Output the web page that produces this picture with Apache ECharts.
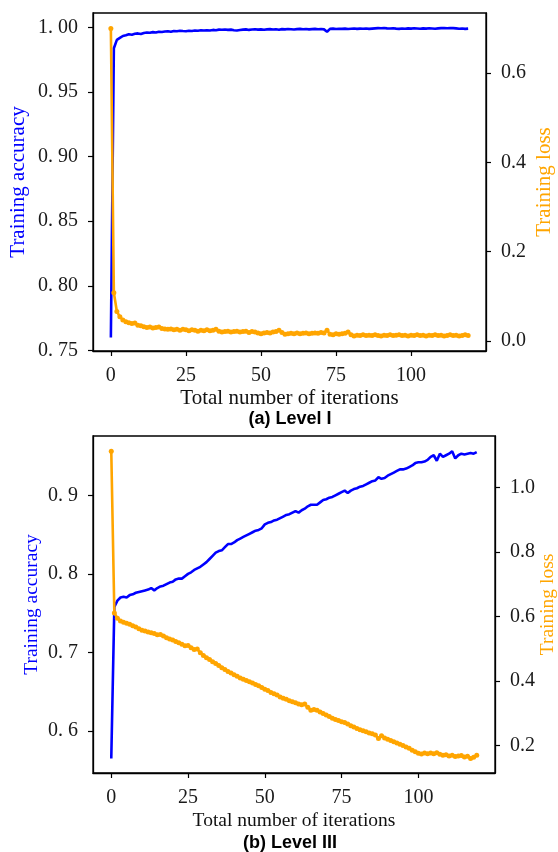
<!DOCTYPE html>
<html>
<head>
<meta charset="utf-8">
<script src="https://cdn.jsdelivr.net/npm/echarts@6/dist/echarts.min.js"></script>
<style>
  html, body { margin: 0; padding: 0; background: #fff; }
  #chart { width: 558px; height: 852px; }
</style>
</head>
<body>
<div id="chart"></div>
<script>
// Training curves for two difficulty levels: accuracy (left axis) and loss (right axis)

// (a) Level I
const accLevel1 = [
  0.760, 0.984, 0.9905, 0.992, 0.9935, 0.994, 0.9948, 0.9945, 0.9952, 0.9955,
  0.995, 0.9958, 0.9962, 0.996, 0.9965, 0.9962, 0.9968, 0.9966, 0.997, 0.9972,
  0.9968, 0.9974, 0.9972, 0.9975, 0.9973, 0.9972, 0.9976, 0.9974, 0.9978, 0.9976,
  0.9979, 0.9977, 0.998, 0.9978, 0.9982, 0.998, 0.9984, 0.9983, 0.9985, 0.9982,
  0.9984, 0.998, 0.9978, 0.9981, 0.9984, 0.9986, 0.9982, 0.9985, 0.9987, 0.9984,
  0.9986, 0.9983, 0.9986, 0.9988, 0.9985, 0.9987, 0.9983, 0.9988, 0.9986, 0.9989,
  0.9987, 0.9985, 0.9988, 0.999, 0.9987, 0.9989, 0.9986, 0.9988, 0.999, 0.9987,
  0.9989, 0.9986, 0.9968, 0.999, 0.9992, 0.9989, 0.9991, 0.999, 0.9992, 0.9989,
  0.9991, 0.9993, 0.999, 0.9992, 0.9991, 0.9993, 0.999, 0.9992, 0.9994, 0.9996,
  0.9995, 0.9997, 0.9994, 0.9993, 0.9995, 0.9992, 0.999, 0.9993, 0.9991, 0.9994,
  0.9992, 0.9995, 0.9993, 0.9991, 0.9994, 0.9992, 0.9995, 0.9993, 0.9991, 0.9994,
  0.9996, 0.9997, 0.9995, 0.9997, 0.9996, 0.9994, 0.9991, 0.9993, 0.999, 0.9992
];
const lossLevel1 = [
  0.700, 0.108, 0.066, 0.054, 0.047, 0.043, 0.041, 0.039, 0.040, 0.035,
  0.034, 0.032, 0.030, 0.031, 0.029, 0.030, 0.031, 0.028, 0.027, 0.026,
  0.027, 0.025, 0.026, 0.024, 0.026, 0.025, 0.023, 0.025, 0.024, 0.022,
  0.024, 0.023, 0.025, 0.023, 0.024, 0.026, 0.022, 0.020, 0.021, 0.022,
  0.020, 0.021, 0.022, 0.020, 0.021, 0.022, 0.019, 0.021, 0.020, 0.018,
  0.016, 0.018, 0.019, 0.018, 0.020, 0.021, 0.024, 0.019, 0.015, 0.016,
  0.017, 0.016, 0.018, 0.016, 0.017, 0.018, 0.016, 0.017, 0.018, 0.017,
  0.019, 0.018, 0.024, 0.015, 0.014, 0.016, 0.015, 0.016, 0.017, 0.020,
  0.014, 0.011, 0.013, 0.012, 0.014, 0.012, 0.013, 0.012, 0.014, 0.012,
  0.011, 0.013, 0.012, 0.014, 0.012, 0.013, 0.014, 0.012, 0.013, 0.011,
  0.013, 0.012, 0.014, 0.012, 0.013, 0.011, 0.013, 0.012, 0.014, 0.012,
  0.013, 0.011, 0.012, 0.014, 0.012, 0.013, 0.011, 0.012, 0.014, 0.012
];

// (b) Level III
const accLevel3 = [
  0.565, 0.758, 0.766, 0.770, 0.771, 0.770, 0.773, 0.774, 0.776, 0.777,
  0.778, 0.779, 0.780, 0.782, 0.779, 0.782, 0.784, 0.785, 0.787, 0.789,
  0.790, 0.793, 0.794, 0.794, 0.797, 0.800, 0.802, 0.805, 0.807, 0.809,
  0.812, 0.815, 0.819, 0.823, 0.827, 0.829, 0.830, 0.834, 0.838, 0.838,
  0.840, 0.843, 0.845, 0.847, 0.849, 0.851, 0.853, 0.855, 0.856, 0.858,
  0.863, 0.865, 0.866, 0.868, 0.869, 0.871, 0.873, 0.875, 0.876, 0.878,
  0.880, 0.878, 0.881, 0.883, 0.886, 0.888, 0.888, 0.888, 0.891, 0.894,
  0.895, 0.897, 0.898, 0.900, 0.902, 0.904, 0.906, 0.903, 0.906, 0.908,
  0.909, 0.911, 0.912, 0.914, 0.916, 0.918, 0.919, 0.923, 0.921, 0.922,
  0.925, 0.927, 0.929, 0.931, 0.933, 0.933, 0.934, 0.936, 0.938, 0.941,
  0.942, 0.942, 0.943, 0.945, 0.949, 0.951, 0.944, 0.953, 0.949, 0.951,
  0.953, 0.956, 0.947, 0.951, 0.953, 0.952, 0.953, 0.954, 0.953, 0.955
];
const lossLevel3 = [
  1.113, 0.611, 0.594, 0.586, 0.582, 0.579, 0.576, 0.571, 0.567, 0.562,
  0.557, 0.555, 0.552, 0.549, 0.547, 0.543, 0.544, 0.539, 0.534, 0.530,
  0.527, 0.522, 0.518, 0.514, 0.509, 0.510, 0.503, 0.497, 0.499, 0.487,
  0.479, 0.472, 0.466, 0.459, 0.454, 0.448, 0.441, 0.435, 0.429, 0.424,
  0.419, 0.414, 0.409, 0.405, 0.401, 0.397, 0.393, 0.389, 0.385, 0.379,
  0.374, 0.370, 0.364, 0.360, 0.356, 0.350, 0.346, 0.343, 0.338, 0.335,
  0.332, 0.328, 0.326, 0.328, 0.318, 0.309, 0.311, 0.309, 0.303, 0.299,
  0.294, 0.289, 0.284, 0.280, 0.277, 0.273, 0.271, 0.266, 0.261, 0.257,
  0.252, 0.248, 0.245, 0.242, 0.238, 0.236, 0.232, 0.221, 0.230, 0.223,
  0.219, 0.215, 0.211, 0.207, 0.203, 0.199, 0.195, 0.191, 0.185, 0.180,
  0.175, 0.173, 0.176, 0.174, 0.176, 0.174, 0.177, 0.172, 0.169, 0.171,
  0.167, 0.169, 0.165, 0.167, 0.168, 0.164, 0.166, 0.159, 0.163, 0.169
];

// Tick positions
const iterTicks = [0, 25, 50, 75, 100];
const accTicks1 = [0.75, 0.80, 0.85, 0.90, 0.95, 1.00];
const lossTicks1 = [0.0, 0.2, 0.4, 0.6];
const accTicks3 = [0.6, 0.7, 0.8, 0.9];
const lossTicks3 = [0.2, 0.4, 0.6, 0.8, 1.0];

// Text
const xTitle = 'Total number of iterations';
const accTitle = 'Training accuracy';
const lossTitle = 'Training loss';
const captions = ['(a) Level I', '(b) Level III'];

const BLUE = '#0000ff';
const ORANGE = '#ffa500';
const SERIF = 'Liberation Serif';
const SANS = 'Liberation Sans';

const pairs = arr => arr.map((v, i) => [i, v]);

function xAxisFor(gridIndex, nameGap, nameSize) {
  return {
    type: 'value', gridIndex: gridIndex,
    min: -5.95, max: 124.95,
    name: xTitle, nameLocation: 'middle', nameGap: nameGap, nameMoveOverlap: false,
    nameTextStyle: { fontFamily: SERIF, fontSize: nameSize, color: '#111' },
    axisLine: { show: true, onZero: false, lineStyle: { color: '#000', width: 1.3 } },
    axisTick: { show: true, inside: false, length: 5, customValues: iterTicks, lineStyle: { color: '#000', width: 1.2 } },
    axisLabel: { customValues: iterTicks, margin: 15, fontFamily: SERIF, fontSize: 20, color: '#1a1a1a' },
    splitLine: { show: false }
  };
}

function yAxisFor(gridIndex, side, min, max, ticks, fmt, title, color, nameGap, nameSize) {
  return {
    type: 'value', gridIndex: gridIndex, position: side,
    min: min, max: max,
    name: title, nameLocation: 'middle', nameGap: nameGap, nameRotate: 90, nameMoveOverlap: false,
    nameTextStyle: { fontFamily: SERIF, fontSize: nameSize, color: color },
    axisLine: { show: true, onZero: false, lineStyle: { color: '#000', width: 1.3 } },
    axisTick: { show: true, inside: false, length: 5, customValues: ticks, lineStyle: { color: '#000', width: 1.2 } },
    axisLabel: { customValues: ticks, formatter: fmt, margin: 15, fontFamily: SERIF, fontSize: 20, color: '#1a1a1a' },
    splitLine: { show: false }
  };
}

const accFmt2 = v => v.toFixed(2).replace('.', '. ');
const accFmt1 = v => v.toFixed(1).replace('.', '. ');
const lossFmt = v => v.toFixed(1);

const chart = echarts.init(document.getElementById('chart'), null, { renderer: 'canvas' });

const gridBase = {
  show: true, borderColor: '#000', borderWidth: 1.3, backgroundColor: 'transparent',
  containLabel: false, outerBoundsMode: 'none'
};

chart.setOption({
  backgroundColor: '#fff',
  animation: false,
  grid: [
    Object.assign({ left: 93, top: 13, width: 393, height: 338 }, gridBase),
    Object.assign({ left: 93, top: 436, width: 402, height: 337 }, gridBase)
  ],
  xAxis: [
    xAxisFor(0, 37, 21),
    xAxisFor(1, 38, 19.5)
  ],
  yAxis: [
    yAxisFor(0, 'left', 0.7495, 1.0113, accTicks1, accFmt2, accTitle, BLUE, 64, 21),
    yAxisFor(0, 'right', -0.0225, 0.7345, lossTicks1, lossFmt, lossTitle, ORANGE, 48, 21),
    yAxisFor(1, 'left', 0.5466, 0.9755, accTicks3, accFmt1, accTitle, BLUE, 51, 19.5),
    yAxisFor(1, 'right', 0.114, 1.160, lossTicks3, lossFmt, lossTitle, ORANGE, 43, 19.5)
  ],
  series: [
    {
      type: 'line', xAxisIndex: 0, yAxisIndex: 0, data: pairs(accLevel1),
      showSymbol: false, lineStyle: { color: BLUE, width: 2.6 }, itemStyle: { color: BLUE }
    },
    {
      type: 'line', xAxisIndex: 0, yAxisIndex: 1, data: pairs(lossLevel1),
      symbol: 'circle', symbolSize: 5, lineStyle: { color: ORANGE, width: 2.6 }, itemStyle: { color: ORANGE }
    },
    {
      type: 'line', xAxisIndex: 1, yAxisIndex: 2, data: pairs(accLevel3),
      showSymbol: false, lineStyle: { color: BLUE, width: 2.6 }, itemStyle: { color: BLUE }
    },
    {
      type: 'line', xAxisIndex: 1, yAxisIndex: 3, data: pairs(lossLevel3),
      symbol: 'circle', symbolSize: 5, lineStyle: { color: ORANGE, width: 2.6 }, itemStyle: { color: ORANGE }
    }
  ],
  graphic: [
    { type: 'text', x: 290, y: 419, style: { text: captions[0], textAlign: 'center', textVerticalAlign: 'middle', fontFamily: SANS, fontWeight: 'bold', fontSize: 18, fill: '#000' } },
    { type: 'text', x: 290, y: 843, style: { text: captions[1], textAlign: 'center', textVerticalAlign: 'middle', fontFamily: SANS, fontWeight: 'bold', fontSize: 18, fill: '#000' } }
  ]
});
</script>
</body>
</html>
